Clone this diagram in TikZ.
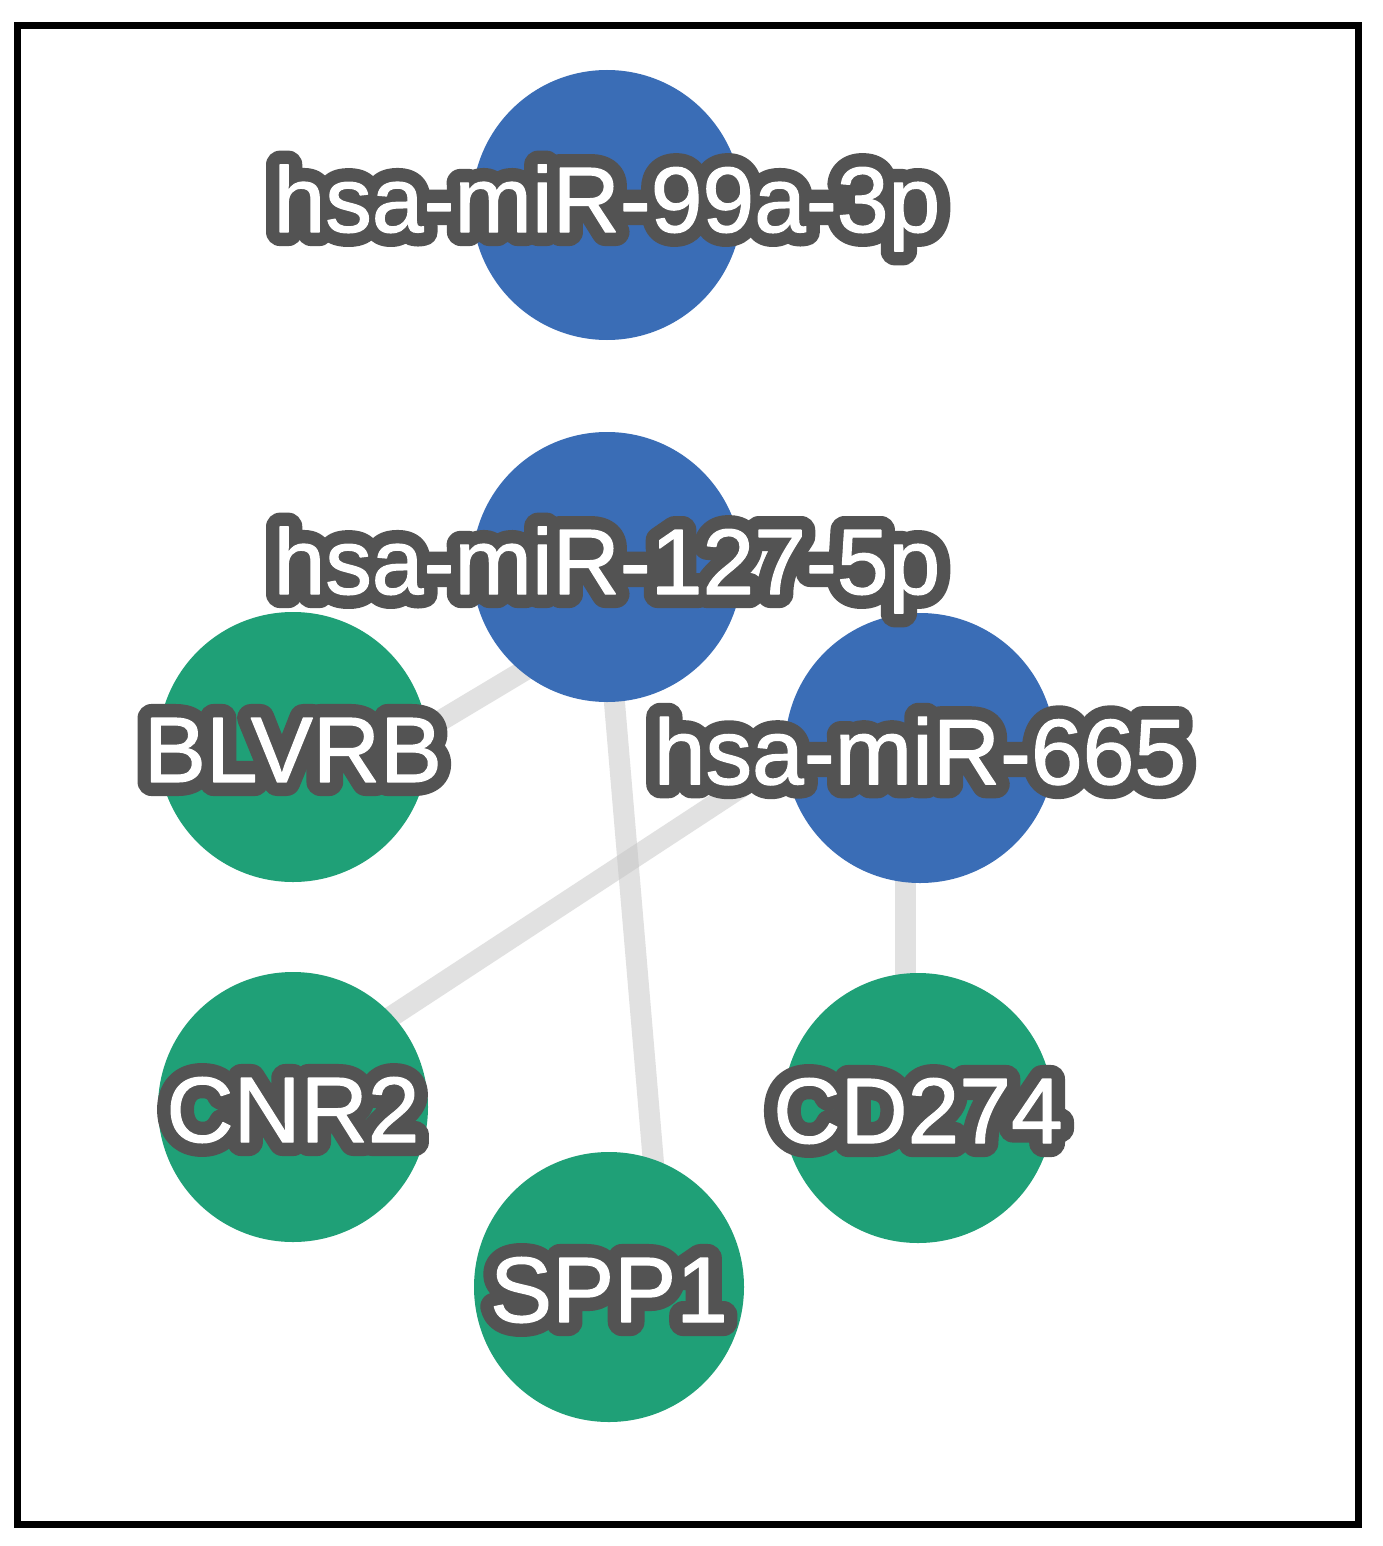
\documentclass[tikz,border=0pt]{standalone}
\usepackage{fontspec}
\newfontfamily\herosfont{Liberation Sans}
\usetikzlibrary{calc}
\definecolor{mirblue}{HTML}{3A6DB6}
\definecolor{genegreen}{HTML}{1FA077}
\definecolor{halogray}{HTML}{535353}
\definecolor{edgegray}{HTML}{C4C4C4}
\tikzset{
  mirna/.style={circle,fill=mirblue,minimum size=135pt,inner sep=0pt},
  gene/.style={circle,fill=genegreen,minimum size=135pt,inner sep=0pt},
  lbl/.style={inner sep=0pt,anchor=center,font=\herosfont\fontsize{46.5}{55}\selectfont},
  edgeline/.style={draw=edgegray,line width=10.5pt,opacity=0.5},
  framebox/.style={draw=black,line width=3.5pt}
}
\newcommand\halolabel[2]{%
  \node[lbl,text=halogray] at ($(#1)+(0,3)$) {\special{pdf:code q 2 Tr 14 w 1 j 1 J 0.325 0.325 0.325 RG}#2\special{pdf:code Q}};
  \node[lbl,text=white] at ($(#1)+(0,3)$) {\special{pdf:code q 2 Tr 0.6 w 1 j 1 J 1 1 1 RG}#2\special{pdf:code Q}};%
}
\begin{document}
\begin{tikzpicture}[x=0.5pt,y=-0.5pt]
\useasboundingbox (0,0) rectangle (1382,1546);
\fill[white] (0,0) rectangle (1382,1546);
% node positions
\coordinate (p99) at (607,205);
\coordinate (p127) at (607,567);
\coordinate (pblv) at (293,747);
\coordinate (p665) at (920,748);
\coordinate (pcnr) at (293,1107);
\coordinate (pcd) at (918,1108);
\coordinate (pspp) at (609,1287);
% edges (behind circles)
\draw[edgeline] ($(p127)+(0,54)$) -- ($(pblv)+(0,62)$);
\draw[edgeline] ($(p127)+(-4,0)$) -- ($(pspp)+(55,0)$);
\draw[edgeline] ($(p665)+(0,-78)$) -- ($(pcnr)+(0,-26)$);
\draw[edgeline] ($(p665)+(-15,0)$) -- ($(pcd)+(-13,0)$);
% circles
\node[mirna] (m99) at (p99) {};
\node[mirna] (m127) at (p127) {};
\node[gene] (blvrb) at (pblv) {};
\node[mirna] (m665) at (p665) {};
\node[gene] (cnr2) at (pcnr) {};
\node[gene] (cd274) at (pcd) {};
\node[gene] (spp1) at (pspp) {};
% labels
\halolabel{m99}{hsa-miR-99a-3p}
\halolabel{m127}{hsa-miR-127-5p}
\halolabel{blvrb}{BLVRB}
\halolabel{m665}{hsa-miR-665}
\halolabel{cnr2}{CNR2}
\halolabel{cd274}{CD274}
\halolabel{spp1}{SPP1}
% frame
\draw[framebox] (17.5,25.5) rectangle (1358,1524);
\end{tikzpicture}
\end{document}
